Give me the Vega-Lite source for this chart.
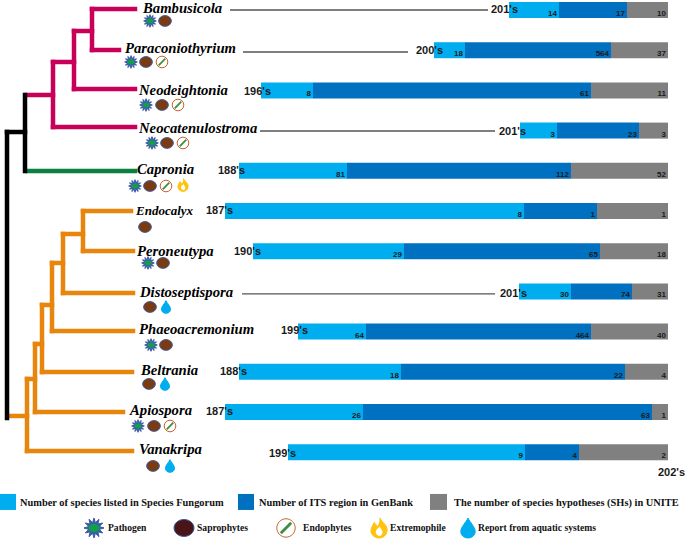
{
"$schema":"https://vega.github.io/schema/vega-lite/v6.json",
"width":685,"height":543,"padding":0,
"autosize":{"type":"fit","contains":"padding"},
"background":"white",
"config":{"view":{"stroke":null}},
"datasets":{
"branches":[
{"clade":"Dothideomycetes","x":92,"x2":135,"y":0.975,"y2":0.975},
{"clade":"Dothideomycetes","x":92,"x2":92,"y":0.975,"y2":1.995},
{"clade":"Dothideomycetes","x":92,"x2":119,"y":1.995,"y2":1.995},
{"clade":"Dothideomycetes","x":74,"x2":92,"y":1.522,"y2":1.522},
{"clade":"Dothideomycetes","x":74,"x2":74,"y":1.522,"y2":2.965},
{"clade":"Dothideomycetes","x":74,"x2":135,"y":2.965,"y2":2.965},
{"clade":"Dothideomycetes","x":53,"x2":74,"y":2.293,"y2":2.293},
{"clade":"Dothideomycetes","x":53,"x2":53,"y":2.293,"y2":3.91},
{"clade":"Dothideomycetes","x":53,"x2":135,"y":3.91,"y2":3.91},
{"clade":"Dothideomycetes","x":27,"x2":53,"y":3.114,"y2":3.114},
{"clade":"Eurotiomycetes","x":27,"x2":135,"y":5.005,"y2":5.005},
{"clade":"Sordariomycetes","x":83,"x2":131,"y":6,"y2":6},
{"clade":"Sordariomycetes","x":83,"x2":83,"y":6,"y2":6.995},
{"clade":"Sordariomycetes","x":83,"x2":133,"y":6.995,"y2":6.995},
{"clade":"Sordariomycetes","x":63,"x2":83,"y":6.572,"y2":6.572},
{"clade":"Sordariomycetes","x":63,"x2":63,"y":6.572,"y2":8.04},
{"clade":"Sordariomycetes","x":63,"x2":133,"y":8.04,"y2":8.04},
{"clade":"Sordariomycetes","x":52,"x2":63,"y":7.293,"y2":7.293},
{"clade":"Sordariomycetes","x":52,"x2":52,"y":7.293,"y2":8.985},
{"clade":"Sordariomycetes","x":52,"x2":133,"y":8.985,"y2":8.985},
{"clade":"Sordariomycetes","x":42,"x2":52,"y":8.338,"y2":8.338},
{"clade":"Sordariomycetes","x":42,"x2":42,"y":8.338,"y2":10.005},
{"clade":"Sordariomycetes","x":42,"x2":132,"y":10.005,"y2":10.005},
{"clade":"Sordariomycetes","x":35,"x2":42,"y":9.308,"y2":9.308},
{"clade":"Sordariomycetes","x":35,"x2":35,"y":9.308,"y2":11},
{"clade":"Sordariomycetes","x":35,"x2":123,"y":11,"y2":11},
{"clade":"Sordariomycetes","x":27,"x2":35,"y":10.179,"y2":10.179},
{"clade":"Sordariomycetes","x":27,"x2":27,"y":10.179,"y2":11.97},
{"clade":"Sordariomycetes","x":27,"x2":132,"y":11.97,"y2":11.97},
{"clade":"Sordariomycetes","x":9,"x2":27,"y":11.099,"y2":11.099},
{"clade":"Root","x":25,"x2":25,"y":3.114,"y2":5.005},
{"clade":"Root","x":7,"x2":25,"y":4.035,"y2":4.035},
{"clade":"Root","x":7,"x2":7,"y":4.035,"y2":11.149}
],
"segments":[
{"genus":"Bambusicola","row":1,"source":"Fungorum","from":509,"to":559,"count":14},
{"genus":"Bambusicola","row":1,"source":"GenBank","from":559,"to":627,"count":17},
{"genus":"Bambusicola","row":1,"source":"UNITE","from":627,"to":668,"count":10},
{"genus":"Paraconiothyrium","row":2,"source":"Fungorum","from":434,"to":465,"count":18},
{"genus":"Paraconiothyrium","row":2,"source":"GenBank","from":465,"to":611,"count":564},
{"genus":"Paraconiothyrium","row":2,"source":"UNITE","from":611,"to":668,"count":37},
{"genus":"Neodeightonia","row":3,"source":"Fungorum","from":261,"to":313,"count":8},
{"genus":"Neodeightonia","row":3,"source":"GenBank","from":313,"to":591,"count":61},
{"genus":"Neodeightonia","row":3,"source":"UNITE","from":591,"to":668,"count":11},
{"genus":"Neocatenulostroma","row":4,"source":"Fungorum","from":520,"to":557,"count":3},
{"genus":"Neocatenulostroma","row":4,"source":"GenBank","from":557,"to":639,"count":23},
{"genus":"Neocatenulostroma","row":4,"source":"UNITE","from":639,"to":668,"count":3},
{"genus":"Capronia","row":5,"source":"Fungorum","from":239,"to":347,"count":81},
{"genus":"Capronia","row":5,"source":"GenBank","from":347,"to":571,"count":112},
{"genus":"Capronia","row":5,"source":"UNITE","from":571,"to":668,"count":52},
{"genus":"Endocalyx","row":6,"source":"Fungorum","from":225,"to":524,"count":8},
{"genus":"Endocalyx","row":6,"source":"GenBank","from":524,"to":597,"count":1},
{"genus":"Endocalyx","row":6,"source":"UNITE","from":597,"to":668,"count":1},
{"genus":"Peroneutypa","row":7,"source":"Fungorum","from":253,"to":404,"count":29},
{"genus":"Peroneutypa","row":7,"source":"GenBank","from":404,"to":600,"count":65},
{"genus":"Peroneutypa","row":7,"source":"UNITE","from":600,"to":668,"count":18},
{"genus":"Distoseptispora","row":8,"source":"Fungorum","from":519,"to":571,"count":30},
{"genus":"Distoseptispora","row":8,"source":"GenBank","from":571,"to":632,"count":74},
{"genus":"Distoseptispora","row":8,"source":"UNITE","from":632,"to":668,"count":31},
{"genus":"Phaeoacremonium","row":9,"source":"Fungorum","from":298,"to":366,"count":64},
{"genus":"Phaeoacremonium","row":9,"source":"GenBank","from":366,"to":591,"count":464},
{"genus":"Phaeoacremonium","row":9,"source":"UNITE","from":591,"to":668,"count":40},
{"genus":"Beltrania","row":10,"source":"Fungorum","from":239,"to":401,"count":18},
{"genus":"Beltrania","row":10,"source":"GenBank","from":401,"to":625,"count":22},
{"genus":"Beltrania","row":10,"source":"UNITE","from":625,"to":668,"count":4},
{"genus":"Apiospora","row":11,"source":"Fungorum","from":225,"to":363,"count":26},
{"genus":"Apiospora","row":11,"source":"GenBank","from":363,"to":652,"count":63},
{"genus":"Apiospora","row":11,"source":"UNITE","from":652,"to":668,"count":1},
{"genus":"Vanakripa","row":12,"source":"Fungorum","from":288,"to":525,"count":9},
{"genus":"Vanakripa","row":12,"source":"GenBank","from":525,"to":579,"count":4},
{"genus":"Vanakripa","row":12,"source":"UNITE","from":579,"to":668,"count":2}
],
"leaders":[
{"genus":"Bambusicola","from":230,"to":488,"row":1},
{"genus":"Paraconiothyrium","from":243,"to":408,"row":2.045},
{"genus":"Neocatenulostroma","from":260,"to":495,"row":4.01},
{"genus":"Distoseptispora","from":242,"to":495,"row":8.064}
],
"years":[
{"label":"201's","x":491,"row":1},
{"label":"200's","x":416,"row":2.02},
{"label":"196's","x":244,"row":3.04},
{"label":"201's","x":499,"row":4.035},
{"label":"188's","x":218,"row":5.005},
{"label":"187's","x":206,"row":6},
{"label":"190's","x":234,"row":7.02},
{"label":"201's","x":500,"row":8.064},
{"label":"199's","x":281,"row":8.985},
{"label":"188's","x":220,"row":10.005},
{"label":"187's","x":206,"row":11},
{"label":"199's","x":269,"row":12.044},
{"label":"202's","x":658,"row":12.517}
],
"genera":[
{"genus":"Bambusicola","x":143,"row":0.975,"tier":"main"},
{"genus":"Paraconiothyrium","x":125,"row":1.97,"tier":"main"},
{"genus":"Neodeightonia","x":139,"row":3.015,"tier":"main"},
{"genus":"Neocatenulostroma","x":139,"row":3.96,"tier":"main"},
{"genus":"Capronia","x":137,"row":4.98,"tier":"main"},
{"genus":"Endocalyx","x":136,"row":6,"tier":"small"},
{"genus":"Peroneutypa","x":137,"row":7.02,"tier":"main"},
{"genus":"Distoseptispora","x":140,"row":8.04,"tier":"main"},
{"genus":"Phaeoacremonium","x":139,"row":8.96,"tier":"main"},
{"genus":"Beltrania","x":141,"row":9.98,"tier":"main"},
{"genus":"Apiospora","x":130,"row":10.975,"tier":"main"},
{"genus":"Vanakripa","x":139,"row":11.945,"tier":"main"}
],
"traits":[
{"set":"row","trait":"Pathogen","x":150,"row":1.273},
{"set":"row","trait":"Saprophytes","x":165,"row":1.273},
{"set":"row","trait":"Pathogen","x":131,"row":2.293},
{"set":"row","trait":"Saprophytes","x":146,"row":2.293},
{"set":"row","trait":"Endophytes","x":162,"row":2.293},
{"set":"row","trait":"Pathogen","x":146,"row":3.363},
{"set":"row","trait":"Saprophytes","x":162,"row":3.363},
{"set":"row","trait":"Endophytes","x":178,"row":3.363},
{"set":"row","trait":"Pathogen","x":152,"row":4.308},
{"set":"row","trait":"Saprophytes","x":167,"row":4.308},
{"set":"row","trait":"Endophytes","x":183,"row":4.308},
{"set":"row","trait":"Pathogen","x":135,"row":5.378},
{"set":"row","trait":"Saprophytes","x":150,"row":5.378},
{"set":"row","trait":"Endophytes","x":166,"row":5.378},
{"set":"row","trait":"Extremophile","x":183,"row":5.353},
{"set":"row","trait":"Saprophytes","x":145,"row":6.398},
{"set":"row","trait":"Pathogen","x":148,"row":7.293},
{"set":"row","trait":"Saprophytes","x":163,"row":7.293},
{"set":"row","trait":"Saprophytes","x":150,"row":8.388},
{"set":"row","trait":"Aquatic","x":166,"row":8.388},
{"set":"row","trait":"Pathogen","x":151,"row":9.333},
{"set":"row","trait":"Saprophytes","x":166,"row":9.333},
{"set":"row","trait":"Saprophytes","x":149,"row":10.303},
{"set":"row","trait":"Aquatic","x":165,"row":10.303},
{"set":"row","trait":"Pathogen","x":138,"row":11.348},
{"set":"row","trait":"Saprophytes","x":154,"row":11.348},
{"set":"row","trait":"Endophytes","x":170,"row":11.348},
{"set":"row","trait":"Saprophytes","x":153,"row":12.343},
{"set":"row","trait":"Aquatic","x":170,"row":12.343},
{"set":"key","trait":"Pathogen","x":94,"row":13.885},
{"set":"key","trait":"Saprophytes","x":184,"row":13.885},
{"set":"key","trait":"Endophytes","x":286,"row":13.885},
{"set":"key","trait":"Extremophile","x":379,"row":13.885},
{"set":"key","trait":"Aquatic","x":468,"row":13.885}
],
"keyBars":[
{"source":"Fungorum","from":0,"to":16,"row":13.238},
{"source":"GenBank","from":238,"to":254,"row":13.238},
{"source":"UNITE","from":430,"to":447,"row":13.238}
],
"keyText":[
{"label":"Number of species listed in Species Fungorum","x":20,"row":13.263,"tier":"top"},
{"label":"Number of ITS region in GenBank","x":259,"row":13.263,"tier":"top"},
{"label":"The number of species hypotheses (SHs) in UNITE","x":454,"row":13.263,"tier":"top"},
{"label":"Pathogen","x":108,"row":13.885,"tier":"low"},
{"label":"Saprophytes","x":197,"row":13.885,"tier":"low"},
{"label":"Endophytes","x":303,"row":13.885,"tier":"low"},
{"label":"Extremophile","x":390,"row":13.885,"tier":"low"},
{"label":"Report from aquatic systems","x":478,"row":13.885,"tier":"low"}
]
},
"encoding":{
"x":{"type":"quantitative","scale":{"domain":[0,685],"range":[0,685],"nice":false,"zero":false,"padding":0},"axis":null},
"y":{"type":"quantitative","scale":{"domain":[0.751,14.259],"range":[0,543],"nice":false,"zero":false,"padding":0},"axis":null}
},
"resolve":{"scale":{"color":"independent","shape":"independent","stroke":"independent","fill":"independent","size":"independent"}},
"layer":[
{"data":{"name":"branches"},"mark":{"type":"rule","strokeWidth":4.5,"strokeCap":"square"},
"encoding":{"x":{"field":"x"},"x2":{"field":"x2"},"y":{"field":"y"},"y2":{"field":"y2"},
"color":{"field":"clade","type":"nominal","legend":null,"scale":{"domain":["Dothideomycetes","Eurotiomycetes","Sordariomycetes","Root"],"range":["#C8005A","#0B8040","#E8850C","#000000"]}}}},
{"data":{"name":"leaders"},"mark":{"type":"rule","strokeWidth":1.3,"color":"#555555"},
"encoding":{"x":{"field":"from"},"x2":{"field":"to"},"y":{"field":"row"}}},
{"data":{"name":"segments"},"mark":{"type":"bar","size":16,"orient":"horizontal"},
"encoding":{"x":{"field":"from"},"x2":{"field":"to"},"y":{"field":"row"},
"color":{"field":"source","type":"nominal","legend":null,"scale":{"domain":["Fungorum","GenBank","UNITE"],"range":["#00AEEF","#0070C0","#808080"]}}}},
{"data":{"name":"segments"},"mark":{"type":"text","font":"Liberation Sans","fontWeight":"bold","fontSize":8,"align":"right","baseline":"middle","dx":-2,"dy":4,"color":"#1a1a1a"},
"encoding":{"x":{"field":"to"},"y":{"field":"row"},"text":{"field":"count","type":"quantitative"}}},
{"data":{"name":"years"},"mark":{"type":"text","font":"Liberation Sans","fontWeight":"bold","fontSize":11,"align":"left","baseline":"middle","color":"#1a1a1a"},
"encoding":{"x":{"field":"x"},"y":{"field":"row"},"text":{"field":"label"}}},
{"data":{"name":"genera"},"mark":{"type":"text","font":"Liberation Serif","fontWeight":"bold","fontStyle":"italic","align":"left","baseline":"middle","color":"#000000"},
"encoding":{"x":{"field":"x"},"y":{"field":"row"},"text":{"field":"genus"},
"size":{"condition":{"test":"datum.tier==='small'","value":13},"value":14.7}}},
{"data":{"name":"traits"},"mark":{"type":"point","filled":true,"opacity":1,"strokeWidth":1,"strokeOpacity":1,"fillOpacity":1},
"encoding":{"x":{"field":"x"},"y":{"field":"row"},
"shape":{"field":"trait","type":"nominal","legend":null,"scale":{"domain":["Pathogen","Saprophytes","Endophytes","Extremophile","Aquatic"],"range":[
"M1 0L.53 .14L.87 .5L.39 .39L.5 .87L.14 .53L0 1L-.14 .53L-.5 .87L-.39 .39L-.87 .5L-.53 .14L-1 0L-.53 -.14L-.87 -.5L-.39 -.39L-.5 -.87L-.14 -.53L0 -1L.14 -.53L.5 -.87L.39 -.39L.87 -.5L.53 -.14Z",
"M-1 0A1 .85 0 1 0 1 0A1 .85 0 1 0 -1 0Z",
"M-.92 0A.92 .92 0 1 0 .92 0A.92 .92 0 1 0 -.92 0Z",
"M.1 -1C.3 -.5 .9 -.3 .8 .3C.75 .75 .4 1 0 1C-.5 1 -.85 .6 -.8 .2C-.78 -.1 -.55 -.3 -.5 -.55C-.3 -.4 -.25 -.2 -.2 -.1C0 -.3 .15 -.6 .1 -1Z",
"M0 -1C.2 -.55 .72 -.1 .72 .35C.72 .75 .38 1 0 1C-.38 1 -.72 .75 -.72 .35C-.72 -.1 -.2 -.55 0 -1Z"]}},
"size":{"field":"set","type":"ordinal","legend":null,"scale":{"domain":["row","key"],"range":[160,400]}},
"fill":{"condition":{"test":"datum.set==='key' && datum.trait==='Saprophytes'","value":"#4A1518"},"field":"trait","type":"nominal","legend":null,"scale":{"domain":["Pathogen","Saprophytes","Endophytes","Extremophile","Aquatic"],"range":["#3B5BA5","#7A3B12","#FFFFFF","#FFC20E","#00AEEF"]}},
"stroke":{"field":"trait","type":"nominal","legend":null,"scale":{"domain":["Pathogen","Saprophytes","Endophytes","Extremophile","Aquatic"],"range":["#3B5BA5","#3F5FA8","#C8622A","#FFC20E","#00AEEF"]}}}},
{"data":{"name":"traits"},"transform":[{"filter":"datum.trait==='Pathogen' || datum.trait==='Endophytes' || datum.trait==='Extremophile'"}],
"mark":{"type":"point","filled":true,"opacity":1,"strokeWidth":0},
"encoding":{"x":{"field":"x"},"y":{"field":"row"},
"shape":{"field":"trait","type":"nominal","legend":null,"scale":{"domain":["Pathogen","Endophytes","Extremophile"],"range":[
"M-.55 0A.55 .4 0 1 0 .55 0A.55 .4 0 1 0 -.55 0Z",
"M-.62 .42L.42 -.62L.62 -.42L-.42 .62Z",
"M.1 .8C-.2 .8 -.4 .5 -.3 .25C-.2 .05 0 0 .05 -.15C.2 .1 .4 .3 .35 .5C.3 .7 .2 .8 .1 .8Z"]}},
"size":{"field":"set","type":"ordinal","legend":null,"scale":{"domain":["row","key"],"range":[160,400]}},
"fill":{"field":"trait","type":"nominal","legend":null,"scale":{"domain":["Pathogen","Endophytes","Extremophile"],"range":["#0FA04A","#3E8E41","#FFFFFF"]}}}},
{"data":{"name":"keyBars"},"mark":{"type":"bar","size":16,"orient":"horizontal"},
"encoding":{"x":{"field":"from"},"x2":{"field":"to"},"y":{"field":"row"},
"color":{"field":"source","type":"nominal","legend":null,"scale":{"domain":["Fungorum","GenBank","UNITE"],"range":["#00AEEF","#0070C0","#808080"]}}}},
{"data":{"name":"keyText"},"mark":{"type":"text","font":"Liberation Serif","fontWeight":"bold","align":"left","baseline":"middle","color":"#111111"},
"encoding":{"x":{"field":"x"},"y":{"field":"row"},"text":{"field":"label"},
"size":{"condition":{"test":"datum.tier==='low'","value":9.6},"value":10.4}}}
]
}
